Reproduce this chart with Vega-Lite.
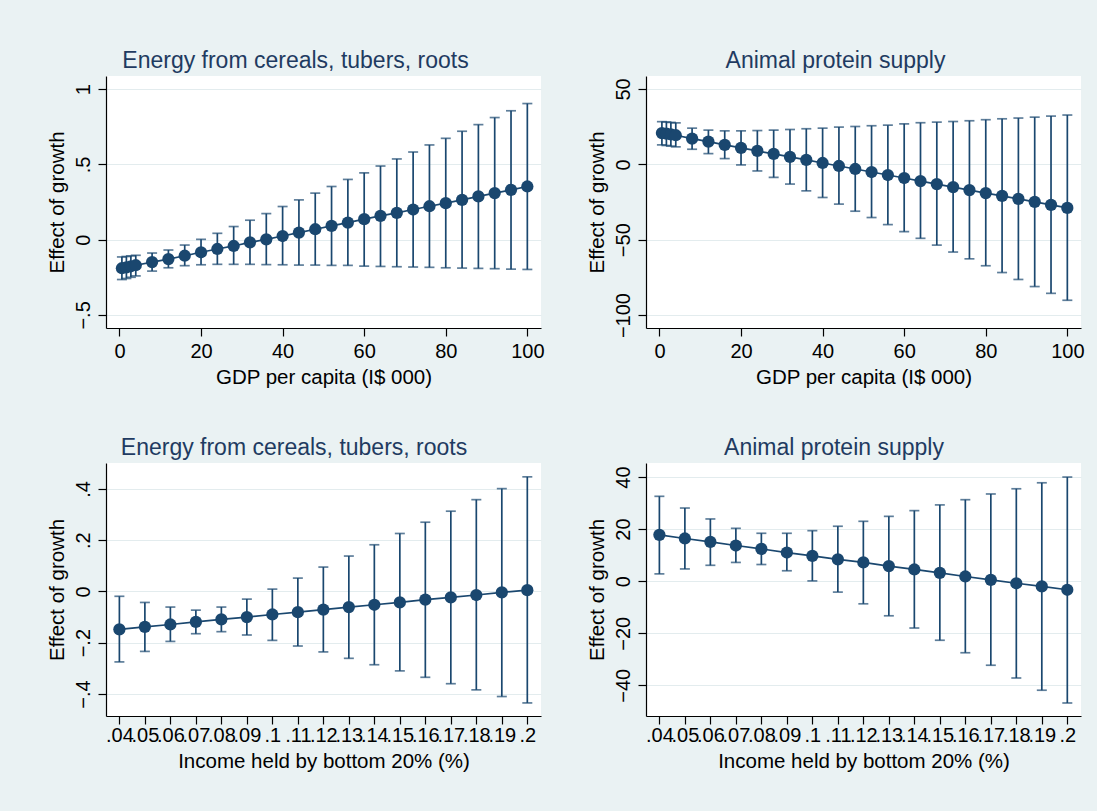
{
  "$schema": "https://vega.github.io/schema/vega-lite/v6.json",
  "background": "#eaf2f3",
  "padding": {"left": 47, "top": 50, "right": 12, "bottom": 40},
  "config": {
    "font": "Liberation Sans",
    "view": {"stroke": null, "fill": "white"},
    "axis": {
      "labelFont": "Liberation Sans", "labelFontSize": 20, "labelColor": "black",
      "titleFont": "Liberation Sans", "titleFontSize": 20.5, "titleFontWeight": "normal", "titleColor": "black",
      "domainColor": "black", "domainWidth": 1.2, "tickColor": "black", "tickWidth": 1.2, "tickSize": 8,
      "gridColor": "#e3ecee", "gridWidth": 1.2, "labelOverlap": false, "labelFlush": false
    },
    "axisY": {"labelAngle": -90, "labelPadding": 5, "titlePadding": 6},
    "axisX": {"labelPadding": 5, "titlePadding": 6, "grid": false},
    "title": {"font": "Liberation Sans", "fontSize": 23, "fontWeight": "normal", "color": "#1f3b61", "frame": "bounds", "anchor": "middle", "offset": 3}
  },
  "datasets": {
    "gdp": [
      {"panel": "A", "x": 0.6, "y": -0.19, "lo": -0.265, "hi": -0.115},
      {"panel": "A", "x": 1.7, "y": -0.184, "lo": -0.258, "hi": -0.112},
      {"panel": "A", "x": 2.8, "y": -0.177, "lo": -0.25, "hi": -0.108},
      {"panel": "A", "x": 4, "y": -0.17, "lo": -0.241, "hi": -0.104},
      {"panel": "A", "x": 8, "y": -0.149, "lo": -0.209, "hi": -0.089},
      {"panel": "A", "x": 12, "y": -0.129, "lo": -0.187, "hi": -0.069},
      {"panel": "A", "x": 16, "y": -0.107, "lo": -0.173, "hi": -0.036},
      {"panel": "A", "x": 20, "y": -0.084, "lo": -0.167, "hi": 0.002},
      {"panel": "A", "x": 24, "y": -0.062, "lo": -0.164, "hi": 0.042},
      {"panel": "A", "x": 28, "y": -0.042, "lo": -0.164, "hi": 0.087},
      {"panel": "A", "x": 32, "y": -0.018, "lo": -0.164, "hi": 0.129},
      {"panel": "A", "x": 36, "y": 0.002, "lo": -0.166, "hi": 0.173},
      {"panel": "A", "x": 40, "y": 0.024, "lo": -0.167, "hi": 0.22},
      {"panel": "A", "x": 44, "y": 0.047, "lo": -0.169, "hi": 0.264},
      {"panel": "A", "x": 48, "y": 0.069, "lo": -0.169, "hi": 0.309},
      {"panel": "A", "x": 52, "y": 0.091, "lo": -0.171, "hi": 0.353},
      {"panel": "A", "x": 56, "y": 0.113, "lo": -0.171, "hi": 0.4},
      {"panel": "A", "x": 60, "y": 0.136, "lo": -0.176, "hi": 0.444},
      {"panel": "A", "x": 64, "y": 0.158, "lo": -0.178, "hi": 0.489},
      {"panel": "A", "x": 68, "y": 0.178, "lo": -0.18, "hi": 0.536},
      {"panel": "A", "x": 72, "y": 0.2, "lo": -0.182, "hi": 0.582},
      {"panel": "A", "x": 76, "y": 0.222, "lo": -0.184, "hi": 0.629},
      {"panel": "A", "x": 80, "y": 0.242, "lo": -0.187, "hi": 0.673},
      {"panel": "A", "x": 84, "y": 0.264, "lo": -0.189, "hi": 0.72},
      {"panel": "A", "x": 88, "y": 0.287, "lo": -0.191, "hi": 0.764},
      {"panel": "A", "x": 92, "y": 0.309, "lo": -0.193, "hi": 0.811},
      {"panel": "A", "x": 96, "y": 0.331, "lo": -0.196, "hi": 0.856},
      {"panel": "A", "x": 100, "y": 0.353, "lo": -0.198, "hi": 0.904},
      {"panel": "B", "x": 0.6, "y": 20.7, "lo": 12.9, "hi": 28.3},
      {"panel": "B", "x": 1.7, "y": 20.3, "lo": 12.5, "hi": 28.1},
      {"panel": "B", "x": 2.8, "y": 19.8, "lo": 12.1, "hi": 27.8},
      {"panel": "B", "x": 4, "y": 19.3, "lo": 11.6, "hi": 27.5},
      {"panel": "B", "x": 8, "y": 17.1, "lo": 10, "hi": 24},
      {"panel": "B", "x": 12, "y": 15.1, "lo": 7.1, "hi": 22.7},
      {"panel": "B", "x": 16, "y": 12.9, "lo": 3.8, "hi": 22.2},
      {"panel": "B", "x": 20, "y": 10.9, "lo": -0.4, "hi": 22.2},
      {"panel": "B", "x": 24, "y": 8.9, "lo": -4.4, "hi": 22.4},
      {"panel": "B", "x": 28, "y": 6.9, "lo": -8.7, "hi": 22.7},
      {"panel": "B", "x": 32, "y": 4.9, "lo": -13.1, "hi": 23.1},
      {"panel": "B", "x": 36, "y": 2.9, "lo": -17.6, "hi": 23.6},
      {"panel": "B", "x": 40, "y": 0.9, "lo": -22, "hi": 24},
      {"panel": "B", "x": 44, "y": -1.1, "lo": -26.4, "hi": 24.7},
      {"panel": "B", "x": 48, "y": -3.1, "lo": -31.1, "hi": 25.1},
      {"panel": "B", "x": 52, "y": -5.1, "lo": -35.3, "hi": 25.6},
      {"panel": "B", "x": 56, "y": -7.1, "lo": -40, "hi": 26},
      {"panel": "B", "x": 60, "y": -9.1, "lo": -44.7, "hi": 26.9},
      {"panel": "B", "x": 64, "y": -11.1, "lo": -49.1, "hi": 27.6},
      {"panel": "B", "x": 68, "y": -13.1, "lo": -53.6, "hi": 28},
      {"panel": "B", "x": 72, "y": -15.1, "lo": -58.2, "hi": 28.4},
      {"panel": "B", "x": 76, "y": -17.1, "lo": -62.7, "hi": 28.9},
      {"panel": "B", "x": 80, "y": -19.1, "lo": -67.3, "hi": 29.6},
      {"panel": "B", "x": 84, "y": -20.9, "lo": -71.8, "hi": 30.2},
      {"panel": "B", "x": 88, "y": -22.9, "lo": -76.4, "hi": 30.7},
      {"panel": "B", "x": 92, "y": -24.9, "lo": -81.1, "hi": 31.3},
      {"panel": "B", "x": 96, "y": -26.9, "lo": -85.6, "hi": 32},
      {"panel": "B", "x": 100, "y": -28.9, "lo": -90.2, "hi": 32.7}
    ],
    "inc": [
      {"panel": "C", "x": 0.04, "y": -0.148, "lo": -0.275, "hi": -0.019},
      {"panel": "C", "x": 0.05, "y": -0.138, "lo": -0.234, "hi": -0.043},
      {"panel": "C", "x": 0.06, "y": -0.129, "lo": -0.195, "hi": -0.061},
      {"panel": "C", "x": 0.07, "y": -0.119, "lo": -0.165, "hi": -0.073},
      {"panel": "C", "x": 0.08, "y": -0.109, "lo": -0.157, "hi": -0.061},
      {"panel": "C", "x": 0.09, "y": -0.1, "lo": -0.17, "hi": -0.03},
      {"panel": "C", "x": 0.1, "y": -0.09, "lo": -0.191, "hi": 0.009},
      {"panel": "C", "x": 0.11, "y": -0.081, "lo": -0.213, "hi": 0.052},
      {"panel": "C", "x": 0.12, "y": -0.071, "lo": -0.236, "hi": 0.095},
      {"panel": "C", "x": 0.13, "y": -0.061, "lo": -0.261, "hi": 0.138},
      {"panel": "C", "x": 0.14, "y": -0.052, "lo": -0.286, "hi": 0.182},
      {"panel": "C", "x": 0.15, "y": -0.043, "lo": -0.31, "hi": 0.226},
      {"panel": "C", "x": 0.16, "y": -0.032, "lo": -0.335, "hi": 0.27},
      {"panel": "C", "x": 0.17, "y": -0.023, "lo": -0.36, "hi": 0.313},
      {"panel": "C", "x": 0.18, "y": -0.014, "lo": -0.384, "hi": 0.358},
      {"panel": "C", "x": 0.19, "y": -0.004, "lo": -0.41, "hi": 0.401},
      {"panel": "C", "x": 0.2, "y": 0.005, "lo": -0.435, "hi": 0.447},
      {"panel": "D", "x": 0.04, "y": 17.8, "lo": 2.8, "hi": 32.6},
      {"panel": "D", "x": 0.05, "y": 16.4, "lo": 4.7, "hi": 28.1},
      {"panel": "D", "x": 0.06, "y": 15.1, "lo": 6.1, "hi": 23.9},
      {"panel": "D", "x": 0.07, "y": 13.7, "lo": 7.2, "hi": 20.3},
      {"panel": "D", "x": 0.08, "y": 12.4, "lo": 6.4, "hi": 18.4},
      {"panel": "D", "x": 0.09, "y": 11, "lo": 4, "hi": 18.4},
      {"panel": "D", "x": 0.1, "y": 9.7, "lo": 0.1, "hi": 19.4},
      {"panel": "D", "x": 0.11, "y": 8.4, "lo": -4.2, "hi": 21.1},
      {"panel": "D", "x": 0.12, "y": 7.2, "lo": -8.7, "hi": 23},
      {"panel": "D", "x": 0.13, "y": 5.8, "lo": -13.3, "hi": 24.9},
      {"panel": "D", "x": 0.14, "y": 4.5, "lo": -18, "hi": 27.1},
      {"panel": "D", "x": 0.15, "y": 3.2, "lo": -22.7, "hi": 29.3},
      {"panel": "D", "x": 0.16, "y": 1.8, "lo": -27.5, "hi": 31.3},
      {"panel": "D", "x": 0.17, "y": 0.5, "lo": -32.3, "hi": 33.5},
      {"panel": "D", "x": 0.18, "y": -0.8, "lo": -37.2, "hi": 35.5},
      {"panel": "D", "x": 0.19, "y": -2, "lo": -41.9, "hi": 37.8},
      {"panel": "D", "x": 0.2, "y": -3.3, "lo": -46.8, "hi": 40}
    ]
  },
  "columns": 2,
  "spacing": {"row": 49, "column": 42},
  "concat": [
    {
      "title": "Energy from cereals, tubers, roots",
      "width": 435, "height": 252,
      "data": {"name": "gdp"},
      "transform": [{"filter": "datum.panel == 'A'"}],
      "encoding": {
        "x": {"field": "x", "type": "quantitative", "title": "GDP per capita (I$ 000)", "scale": {"domain": [-3.3, 103.35], "nice": false, "zero": false}, "axis": {"values": [0, 20, 40, 60, 80, 100]}}
      },
      "layer": [
        {"mark": {"type": "rule", "color": "#1a476f", "strokeWidth": 1.7}, "encoding": {"y": {"field": "lo", "type": "quantitative", "title": "Effect of growth", "scale": {"domain": [-0.587, 1.087], "nice": false, "zero": false}, "axis": {"values": [-0.5, 0, 0.5, 1], "labelExpr": "replace(format(datum.value, '.2~f'), '0.', '.')"}}, "y2": {"field": "hi"}}},
        {"mark": {"type": "tick", "color": "#1a476f", "orient": "horizontal", "size": 10, "thickness": 1.7}, "encoding": {"y": {"field": "lo", "type": "quantitative"}}},
        {"mark": {"type": "tick", "color": "#1a476f", "orient": "horizontal", "size": 10, "thickness": 1.7}, "encoding": {"y": {"field": "hi", "type": "quantitative"}}},
        {"mark": {"type": "line", "color": "#1a476f", "strokeWidth": 1.7}, "encoding": {"y": {"field": "y", "type": "quantitative"}}},
        {"mark": {"type": "point", "filled": true, "opacity": 1, "color": "#1a476f", "size": 150}, "encoding": {"y": {"field": "y", "type": "quantitative"}}}
      ]
    },
    {
      "title": "Animal protein supply",
      "width": 435, "height": 252,
      "data": {"name": "gdp"},
      "transform": [{"filter": "datum.panel == 'B'"}],
      "encoding": {
        "x": {"field": "x", "type": "quantitative", "title": "GDP per capita (I$ 000)", "scale": {"domain": [-3.3, 103.35], "nice": false, "zero": false}, "axis": {"values": [0, 20, 40, 60, 80, 100]}}
      },
      "layer": [
        {"mark": {"type": "rule", "color": "#1a476f", "strokeWidth": 1.7}, "encoding": {"y": {"field": "lo", "type": "quantitative", "title": "Effect of growth", "scale": {"domain": [-108.6, 58.6], "nice": false, "zero": false}, "axis": {"values": [-100, -50, 0, 50]}}, "y2": {"field": "hi"}}},
        {"mark": {"type": "tick", "color": "#1a476f", "orient": "horizontal", "size": 10, "thickness": 1.7}, "encoding": {"y": {"field": "lo", "type": "quantitative"}}},
        {"mark": {"type": "tick", "color": "#1a476f", "orient": "horizontal", "size": 10, "thickness": 1.7}, "encoding": {"y": {"field": "hi", "type": "quantitative"}}},
        {"mark": {"type": "line", "color": "#1a476f", "strokeWidth": 1.7}, "encoding": {"y": {"field": "y", "type": "quantitative"}}},
        {"mark": {"type": "point", "filled": true, "opacity": 1, "color": "#1a476f", "size": 150}, "encoding": {"y": {"field": "y", "type": "quantitative"}}}
      ]
    },
    {
      "title": "Energy from cereals, tubers, roots",
      "width": 435, "height": 253,
      "data": {"name": "inc"},
      "transform": [{"filter": "datum.panel == 'C'"}],
      "encoding": {
        "x": {"field": "x", "type": "quantitative", "title": "Income held by bottom 20% (%)", "scale": {"domain": [0.03475, 0.20537], "nice": false, "zero": false}, "axis": {"labelPadding": 1, "values": [0.04, 0.05, 0.06, 0.07, 0.08, 0.09, 0.1, 0.11, 0.12, 0.13, 0.14, 0.15, 0.16, 0.17, 0.18, 0.19, 0.2], "labelExpr": "replace(format(datum.value, '.2~f'), '0.', '.')"}}
      },
      "layer": [
        {"mark": {"type": "rule", "color": "#1a476f", "strokeWidth": 1.7}, "encoding": {"y": {"field": "lo", "type": "quantitative", "title": "Effect of growth", "scale": {"domain": [-0.486, 0.501], "nice": false, "zero": false}, "axis": {"values": [-0.4, -0.2, 0, 0.2, 0.4], "labelExpr": "replace(format(datum.value, '.2~f'), '0.', '.')"}}, "y2": {"field": "hi"}}},
        {"mark": {"type": "tick", "color": "#1a476f", "orient": "horizontal", "size": 10, "thickness": 1.7}, "encoding": {"y": {"field": "lo", "type": "quantitative"}}},
        {"mark": {"type": "tick", "color": "#1a476f", "orient": "horizontal", "size": 10, "thickness": 1.7}, "encoding": {"y": {"field": "hi", "type": "quantitative"}}},
        {"mark": {"type": "line", "color": "#1a476f", "strokeWidth": 1.7}, "encoding": {"y": {"field": "y", "type": "quantitative"}}},
        {"mark": {"type": "point", "filled": true, "opacity": 1, "color": "#1a476f", "size": 150}, "encoding": {"y": {"field": "y", "type": "quantitative"}}}
      ]
    },
    {
      "title": "Animal protein supply",
      "width": 435, "height": 253,
      "data": {"name": "inc"},
      "transform": [{"filter": "datum.panel == 'D'"}],
      "encoding": {
        "x": {"field": "x", "type": "quantitative", "title": "Income held by bottom 20% (%)", "scale": {"domain": [0.03475, 0.20537], "nice": false, "zero": false}, "axis": {"labelPadding": 1, "values": [0.04, 0.05, 0.06, 0.07, 0.08, 0.09, 0.1, 0.11, 0.12, 0.13, 0.14, 0.15, 0.16, 0.17, 0.18, 0.19, 0.2], "labelExpr": "replace(format(datum.value, '.2~f'), '0.', '.')"}}
      },
      "layer": [
        {"mark": {"type": "rule", "color": "#1a476f", "strokeWidth": 1.7}, "encoding": {"y": {"field": "lo", "type": "quantitative", "title": "Effect of growth", "scale": {"domain": [-51.8, 45.4], "nice": false, "zero": false}, "axis": {"values": [-40, -20, 0, 20, 40]}}, "y2": {"field": "hi"}}},
        {"mark": {"type": "tick", "color": "#1a476f", "orient": "horizontal", "size": 10, "thickness": 1.7}, "encoding": {"y": {"field": "lo", "type": "quantitative"}}},
        {"mark": {"type": "tick", "color": "#1a476f", "orient": "horizontal", "size": 10, "thickness": 1.7}, "encoding": {"y": {"field": "hi", "type": "quantitative"}}},
        {"mark": {"type": "line", "color": "#1a476f", "strokeWidth": 1.7}, "encoding": {"y": {"field": "y", "type": "quantitative"}}},
        {"mark": {"type": "point", "filled": true, "opacity": 1, "color": "#1a476f", "size": 150}, "encoding": {"y": {"field": "y", "type": "quantitative"}}}
      ]
    }
  ]
}
